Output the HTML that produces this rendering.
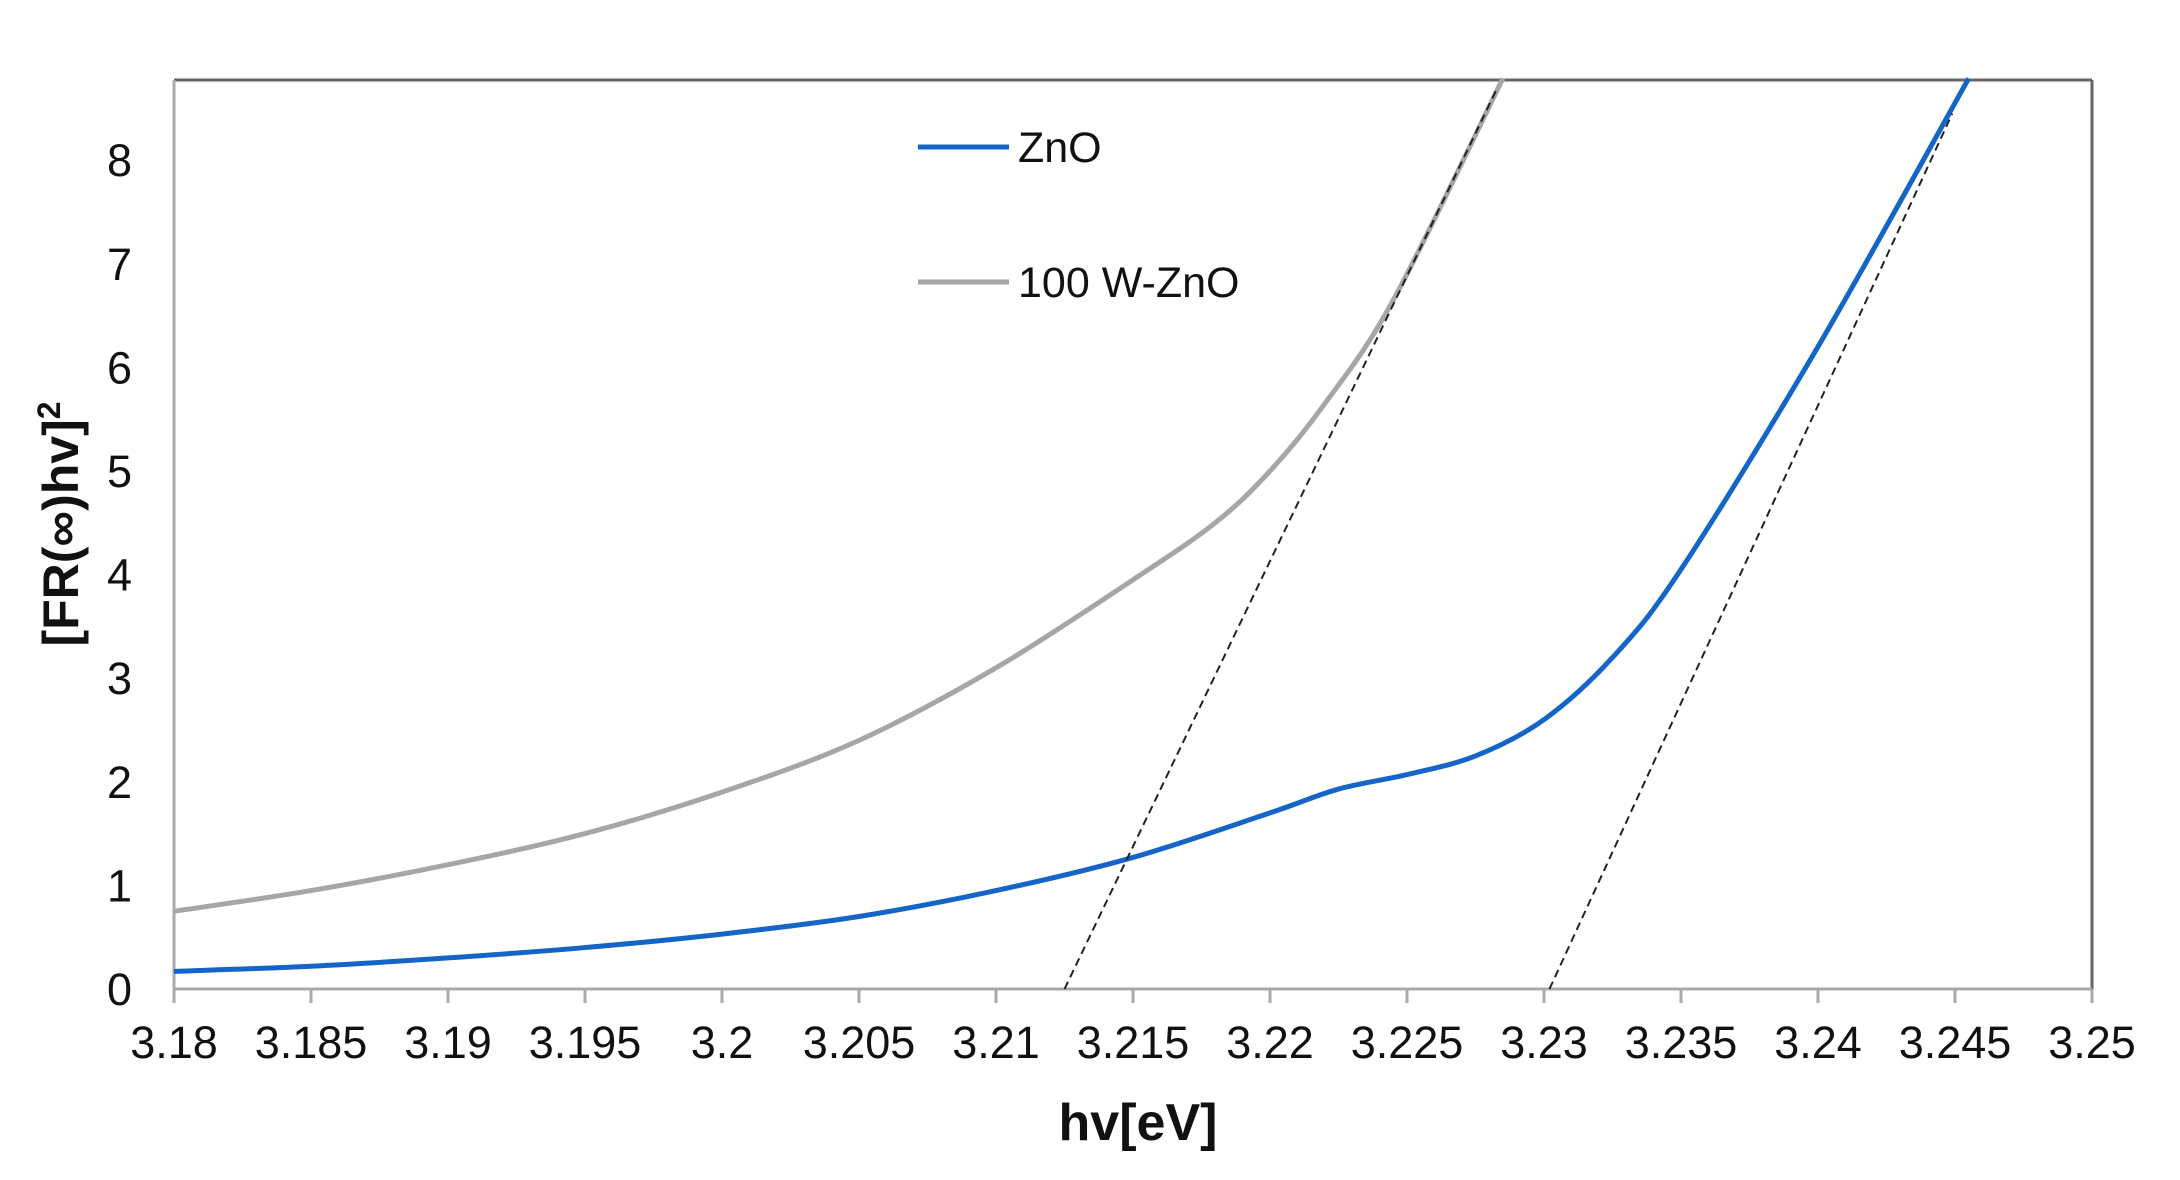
<!DOCTYPE html>
<html><head><meta charset="utf-8"><style>
html,body{margin:0;padding:0;background:#fff;}
svg{display:block;font-family:"Liberation Sans",Arial,sans-serif;}
</style></head><body>
<svg id="s" width="2180" height="1180" viewBox="0 0 2180 1180" xmlns="http://www.w3.org/2000/svg">
<rect width="2180" height="1180" fill="#fff"/>
<g id="ticks"></g>
<line x1="174" y1="80" x2="2092" y2="80" stroke="#666" stroke-width="3"/>
<line x1="2092" y1="80" x2="2092" y2="989" stroke="#666" stroke-width="3"/>
<line x1="174" y1="80" x2="174" y2="989" stroke="#aaa" stroke-width="3"/>
<line x1="174" y1="989" x2="2092" y2="989" stroke="#aaa" stroke-width="3"/>
<path id="gray" fill="none" stroke="#a6a6a6" stroke-width="5"/>
<path id="blue" fill="none" stroke="#1565c8" stroke-width="5"/>
<line id="d1" stroke="#222" stroke-width="2" stroke-dasharray="8,5"/>
<line id="d2" stroke="#222" stroke-width="2" stroke-dasharray="8,5"/>
<line x1="918" y1="147" x2="1009" y2="147" stroke="#1565c8" stroke-width="5"/>
<text x="1018" y="162" font-size="43" fill="#111">ZnO</text>
<line x1="918" y1="282" x2="1009" y2="282" stroke="#a6a6a6" stroke-width="5"/>
<text x="1018" y="297" font-size="43" fill="#111">100 W-ZnO</text>
<text x="1138" y="1140" font-size="52" font-weight="bold" text-anchor="middle" fill="#111">hv[eV]</text>
<text transform="translate(78,524) rotate(-90)" font-size="50" font-weight="bold" text-anchor="middle" fill="#111">[FR(∞)hv]<tspan dy="-18" font-size="32">2</tspan></text>
</svg>
<script>
var X=function(v){return 174+(v-3.18)/0.005*137.0;};
var Y=function(v){return 989-v*103.6;};
var g=document.getElementById('ticks'),h='';
for(var i=0;i<=14;i++){var x=174+i*137.0;var v=(3.18+i*0.005);var t=(Math.round(v*1000)/1000).toString();
h+='<line x1="'+x+'" y1="989" x2="'+x+'" y2="1003" stroke="#aaa" stroke-width="3"/>';
h+='<text x="'+x+'" y="1058" font-size="45" text-anchor="middle" fill="#111">'+t+'</text>';}
for(var j=0;j<=8;j++){h+='<text x="132" y="'+(Y(j)+16)+'" font-size="45" text-anchor="end" fill="#111">'+j+'</text>';}
g.innerHTML=h;
function path(pts){var p=pts.map(function(a){return [X(a[0]),Y(a[1])];});var d='M'+p[0][0]+','+p[0][1];
for(var i=0;i<p.length-1;i++){var p0=p[i-1]||p[i],p1=p[i],p2=p[i+1],p3=p[i+2]||p2;
d+=' C'+(p1[0]+(p2[0]-p0[0])/6)+','+(p1[1]+(p2[1]-p0[1])/6)+' '+(p2[0]-(p3[0]-p1[0])/6)+','+(p2[1]-(p3[1]-p1[1])/6)+' '+p2[0]+','+p2[1];}
return d;}
document.getElementById('gray').setAttribute('d',path([[3.18,0.75],[3.185,0.95],[3.19,1.2],[3.195,1.5],[3.2,1.9],[3.205,2.4],[3.21,3.1],[3.215,3.95],[3.218,4.5],[3.22,5.0],[3.222,5.65],[3.2245,6.65],[3.2285,8.79]]));
document.getElementById('blue').setAttribute('d',path([[3.18,0.17],[3.185,0.22],[3.19,0.3],[3.195,0.4],[3.2,0.53],[3.205,0.7],[3.21,0.95],[3.215,1.27],[3.22,1.7],[3.2225,1.93],[3.225,2.07],[3.2275,2.25],[3.23,2.6],[3.2325,3.2],[3.235,4.05],[3.24,6.2],[3.2455,8.79]]));
function L(id,a,b){var e=document.getElementById(id);e.setAttribute('x1',X(a[0]));e.setAttribute('y1',Y(a[1]));e.setAttribute('x2',X(b[0]));e.setAttribute('y2',Y(b[1]));}
L('d1',[3.2125,0],[3.2283,8.7]);
L('d2',[3.2302,0],[3.2449,8.45]);
</script>
</body></html>
